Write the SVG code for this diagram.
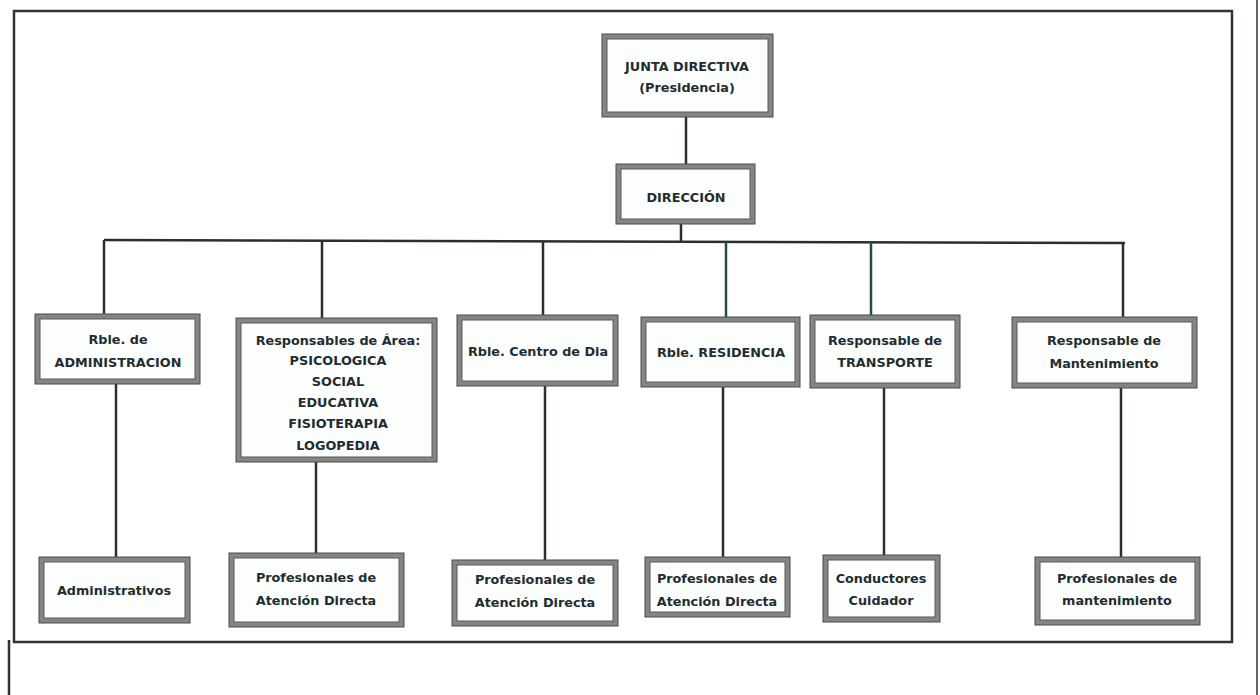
<svg xmlns="http://www.w3.org/2000/svg" width="1260" height="695" viewBox="0 0 1260 695">
<style>
.frame{fill:none;stroke:#2f3535;stroke-width:2.5}
.conn line{stroke:#2b2f30;stroke-width:2.5}
.outer{fill:#858585;stroke:#4a4a4a;stroke-width:1}
.inner{fill:#fcfdfd;stroke:#5a5a5a;stroke-width:1}
text{font-family:"DejaVu Sans","Liberation Sans",sans-serif;font-weight:bold;font-size:12.8px;fill:#1f2d30;text-anchor:middle;dominant-baseline:central}
</style>
<rect width="1260" height="695" fill="#ffffff"/>
<g id="frame">
<rect class="frame" x="14" y="11" width="1218" height="631"/>
<line class="frame" x1="9" y1="640" x2="9" y2="695"/>
<line class="frame" x1="1257" y1="0" x2="1257" y2="695" style="stroke-width:1.5"/>
</g>
<g class="conn" id="connectors">
<line x1="686" y1="117" x2="686" y2="164"/>
<line x1="681" y1="224" x2="681" y2="241"/>
<line x1="104" y1="240" x2="1125" y2="243"/>
<line x1="104" y1="240" x2="104" y2="314"/>
<line x1="322" y1="241" x2="322" y2="318"/>
<line x1="543" y1="241" x2="543" y2="315"/>
<line x1="726" y1="242" x2="726" y2="317" style="stroke:#2a4a4c"/>
<line x1="871" y1="242" x2="871" y2="315" style="stroke:#2a4a4c"/>
<line x1="1123" y1="243" x2="1123" y2="317"/>
<line x1="116" y1="384" x2="116" y2="557"/>
<line x1="316" y1="462" x2="316" y2="553"/>
<line x1="545" y1="386" x2="545" y2="560"/>
<line x1="723" y1="387" x2="723" y2="557"/>
<line x1="884" y1="388" x2="884" y2="555"/>
<line x1="1121" y1="388" x2="1121" y2="557"/>
</g>
<g id="junta">
<rect class="outer" x="602" y="34" width="171" height="83"/>
<rect class="inner" x="607" y="39" width="161" height="73"/>
<text x="687" y="66">JUNTA DIRECTIVA</text>
<text x="687" y="87">(Presidencia)</text>
</g>
<g id="direccion">
<rect class="outer" x="616" y="164" width="139" height="60"/>
<rect class="inner" x="621" y="169" width="129" height="50"/>
<text x="686" y="197">DIRECCIÓN</text>
</g>
<g id="administracion">
<rect class="outer" x="35" y="314" width="165" height="70"/>
<rect class="inner" x="40" y="319" width="155" height="60"/>
<text x="118" y="339">Rble. de</text>
<text x="118" y="362">ADMINISTRACION</text>
</g>
<g id="areas">
<rect class="outer" x="236" y="318" width="201" height="144"/>
<rect class="inner" x="241" y="323" width="191" height="134"/>
<text x="338" y="340">Responsables de Área:</text>
<text x="338" y="360">PSICOLOGICA</text>
<text x="338" y="381">SOCIAL</text>
<text x="338" y="402">EDUCATIVA</text>
<text x="338" y="423">FISIOTERAPIA</text>
<text x="338" y="445">LOGOPEDIA</text>
</g>
<g id="centrodia">
<rect class="outer" x="457" y="315" width="161" height="71"/>
<rect class="inner" x="462" y="320" width="151" height="61"/>
<text x="538" y="351">Rble. Centro de Dia</text>
</g>
<g id="residencia">
<rect class="outer" x="641" y="317" width="159" height="70"/>
<rect class="inner" x="646" y="322" width="149" height="60"/>
<text x="721" y="352">Rble. RESIDENCIA</text>
</g>
<g id="transporte">
<rect class="outer" x="810" y="315" width="150" height="73"/>
<rect class="inner" x="815" y="320" width="140" height="63"/>
<text x="885" y="340">Responsable de</text>
<text x="885" y="362">TRANSPORTE</text>
</g>
<g id="mantenimiento">
<rect class="outer" x="1012" y="317" width="185" height="71"/>
<rect class="inner" x="1017" y="322" width="175" height="61"/>
<text x="1104" y="340">Responsable de</text>
<text x="1104" y="363">Mantenimiento</text>
</g>
<g id="administrativos">
<rect class="outer" x="39" y="557" width="151" height="66"/>
<rect class="inner" x="44" y="562" width="141" height="56"/>
<text x="114" y="590">Administrativos</text>
</g>
<g id="prof1">
<rect class="outer" x="229" y="553" width="175" height="74"/>
<rect class="inner" x="234" y="558" width="165" height="64"/>
<text x="316" y="577">Profesionales de</text>
<text x="316" y="600">Atención Directa</text>
</g>
<g id="prof2">
<rect class="outer" x="452" y="560" width="166" height="66"/>
<rect class="inner" x="457" y="565" width="156" height="56"/>
<text x="535" y="579">Profesionales de</text>
<text x="535" y="602">Atención Directa</text>
</g>
<g id="prof3">
<rect class="outer" x="645" y="557" width="145" height="60"/>
<rect class="inner" x="650" y="562" width="135" height="50"/>
<text x="717" y="578">Profesionales de</text>
<text x="717" y="601">Atención Directa</text>
</g>
<g id="conductores">
<rect class="outer" x="823" y="555" width="117" height="67"/>
<rect class="inner" x="828" y="560" width="107" height="57"/>
<text x="881" y="578">Conductores</text>
<text x="881" y="600">Cuidador</text>
</g>
<g id="profmant">
<rect class="outer" x="1035" y="557" width="165" height="68"/>
<rect class="inner" x="1040" y="562" width="155" height="58"/>
<text x="1117" y="578">Profesionales de</text>
<text x="1117" y="600">mantenimiento</text>
</g>
</svg>
